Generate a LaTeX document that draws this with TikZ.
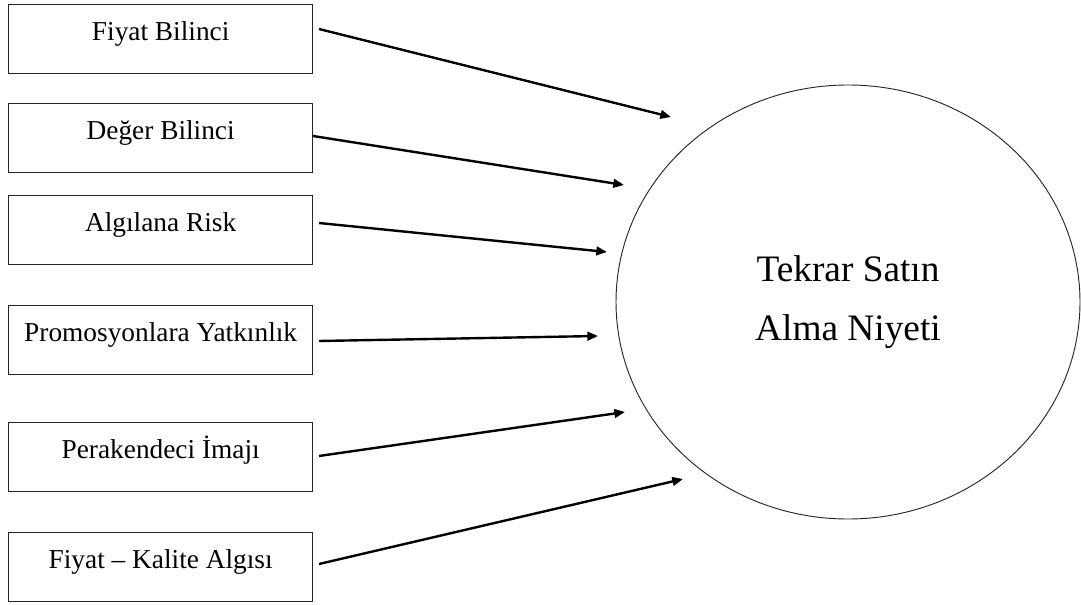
\documentclass[tikz,border=0pt]{standalone}
\usepackage{fontspec}
\setmainfont{Liberation Serif}
\usetikzlibrary{arrows.meta,shapes.geometric}
\begin{document}
\begin{tikzpicture}[x=0.75pt,y=-0.75pt,
  box/.style={draw=black!85,line width=1pt,minimum width=228pt,minimum height=51.75pt,
    inner xsep=0pt,inner ysep=0pt,text height=27pt,text depth=24.75pt,
    font=\fontsize{20.5}{24}\selectfont,anchor=north west},
  arr/.style={line width=1.8pt,-{Triangle[length=8pt,width=6.5pt]}},
  goal/.style={draw=black!85,line width=0.7pt,ellipse,minimum width=348pt,minimum height=325.5pt,
    inner sep=0pt,align=center,font=\fontsize{28}{44.25}\selectfont}]
\useasboundingbox (0,0) rectangle (1081,605);

\node[box] (b1) at (8,4)   {Fiyat Bilinci};
\node[box] (b2) at (8,103) {Değer Bilinci};
\node[box] (b3) at (8,195) {Algılana Risk};
\node[box] (b4) at (8,305) {Promosyonlara Yatkınlık};
\node[box] (b5) at (8,422) {Perakendeci İmajı};
\node[box] (b6) at (8,532) {Fiyat -- Kalite Algısı};

\node[goal] (g) at (848,302) {Tekrar Satın\\Alma Niyeti};

\coordinate (s1) at (319,29);  \coordinate (e1) at (671,117);
\coordinate (s2) at (313,136); \coordinate (e2) at (624,185);
\coordinate (s3) at (319,223); \coordinate (e3) at (607,252);
\coordinate (s4) at (319,341); \coordinate (e4) at (598,336);
\coordinate (s5) at (319,456); \coordinate (e5) at (625,412);
\coordinate (s6) at (319,564); \coordinate (e6) at (683,479);

\draw[arr] (s1) -- (e1);
\draw[arr] (s2) -- (e2);
\draw[arr] (s3) -- (e3);
\draw[arr] (s4) -- (e4);
\draw[arr] (s5) -- (e5);
\draw[arr] (s6) -- (e6);
\end{tikzpicture}
\end{document}
